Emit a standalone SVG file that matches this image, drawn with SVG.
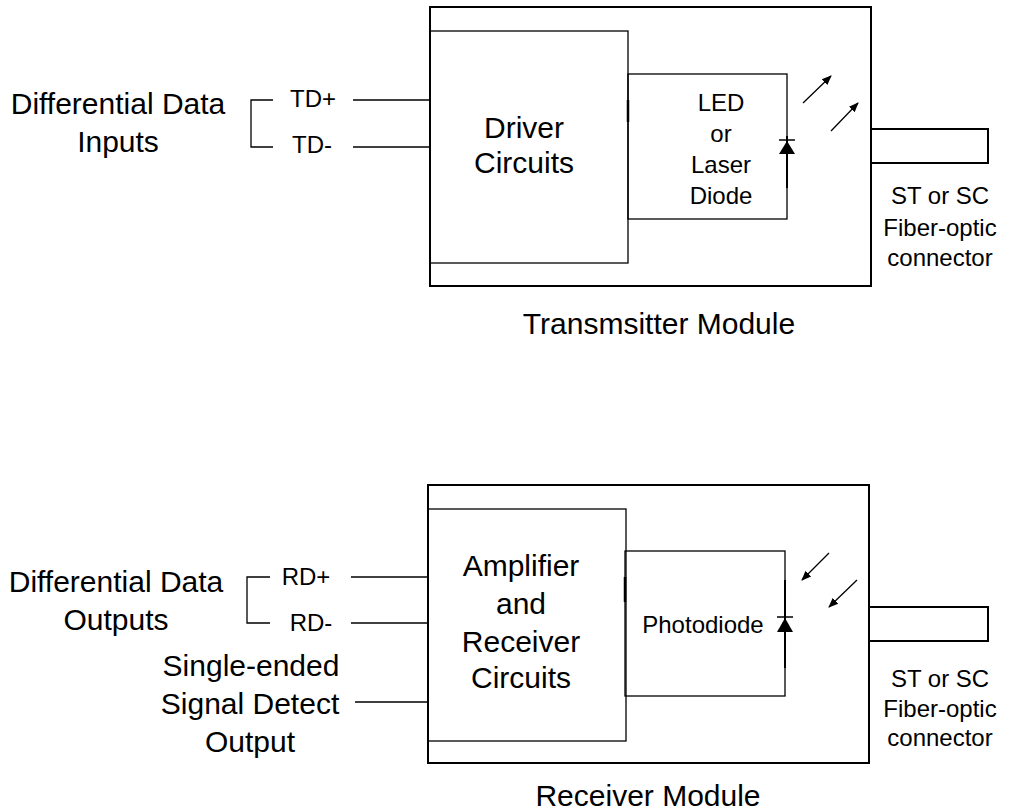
<svg xmlns="http://www.w3.org/2000/svg" width="1010" height="811" viewBox="0 0 1010 811">
<style>
.t{font-family:"Liberation Sans",Arial,sans-serif;fill:#000}
.l{font-size:30px}
.s{font-size:24px}
.o{fill:none;stroke:#000;stroke-width:2}
.i{fill:none;stroke:#000;stroke-width:1.3}
.w{fill:none;stroke:#000;stroke-width:1.3}
</style>
<defs>
<marker id="ah" viewBox="0 0 10 10" refX="9" refY="5" markerWidth="10" markerHeight="10" markerUnits="userSpaceOnUse" orient="auto">
<path d="M0,1 L10,5 L0,9 Z" fill="#000"/>
</marker>
</defs>
<rect width="1010" height="811" fill="#fff"/>

<g id="transmitter-module">
<rect class="o" x="430" y="7" width="441" height="279"/>
<text class="t l" x="659" y="334" text-anchor="middle">Transmsitter Module</text>
</g>
<g id="driver-circuits">
<rect class="i" x="430" y="31" width="198" height="232"/>
<text class="t l" x="524" y="138" text-anchor="middle">Driver</text>
<text class="t l" x="524" y="173" text-anchor="middle">Circuits</text>
</g>
<g id="led-laser-diode">
<rect class="i" x="628" y="74" width="159" height="145"/>
<line x1="628" y1="100" x2="628" y2="122" stroke="#000" stroke-width="2.5"/>
<text class="t s" x="721" y="111" text-anchor="middle">LED</text>
<text class="t s" x="721" y="142" text-anchor="middle">or</text>
<text class="t s" x="721" y="173" text-anchor="middle">Laser</text>
<text class="t s" x="721" y="204" text-anchor="middle">Diode</text>
<line x1="787" y1="136" x2="787" y2="188" stroke="#000" stroke-width="2"/>
<line x1="779" y1="140" x2="795" y2="140" stroke="#000" stroke-width="1.5"/>
<polygon points="787,141 779,154 795,154" fill="#000"/>
</g>
<g id="tx-fiber-connector">
<rect class="o" x="871" y="129" width="117" height="34"/>
<text class="t s" x="940" y="204" text-anchor="middle">ST or SC</text>
<text class="t s" x="940" y="236" text-anchor="middle">Fiber-optic</text>
<text class="t s" x="940" y="266" text-anchor="middle">connector</text>
</g>
<g id="tx-inputs">
<text class="t l" x="118" y="114" text-anchor="middle">Differential Data</text>
<text class="t l" x="118" y="152" text-anchor="middle">Inputs</text>
<text class="t s" x="313" y="107" text-anchor="middle">TD+</text>
<text class="t s" x="312" y="153" text-anchor="middle">TD-</text>
</g>

<g id="receiver-module">
<rect class="o" x="428" y="485" width="441" height="278"/>
<text class="t l" x="648" y="806" text-anchor="middle">Receiver Module</text>
</g>
<g id="amplifier-receiver-circuits">
<rect class="i" x="428" y="509" width="198" height="232"/>
<text class="t l" x="521" y="576" text-anchor="middle">Amplifier</text>
<text class="t l" x="521" y="614" text-anchor="middle">and</text>
<text class="t l" x="521" y="652" text-anchor="middle">Receiver</text>
<text class="t l" x="521" y="688" text-anchor="middle">Circuits</text>
</g>
<g id="photodiode">
<rect class="i" x="625" y="551" width="160" height="145"/>
<line x1="625" y1="577" x2="625" y2="602" stroke="#000" stroke-width="2.5"/>
<text class="t s" x="703" y="633" text-anchor="middle">Photodiode</text>
<line x1="785" y1="580" x2="785" y2="668" stroke="#000" stroke-width="2"/>
<line x1="777" y1="617" x2="793" y2="617" stroke="#000" stroke-width="1.5"/>
<polygon points="785,618 777,632 793,632" fill="#000"/>
</g>
<g id="rx-fiber-connector">
<rect class="o" x="869" y="607" width="119" height="34"/>
<text class="t s" x="940" y="687" text-anchor="middle">ST or SC</text>
<text class="t s" x="940" y="717" text-anchor="middle">Fiber-optic</text>
<text class="t s" x="940" y="746" text-anchor="middle">connector</text>
</g>
<g id="rx-outputs">
<text class="t l" x="116" y="592" text-anchor="middle">Differential Data</text>
<text class="t l" x="116" y="630" text-anchor="middle">Outputs</text>
<text class="t s" x="306" y="585" text-anchor="middle">RD+</text>
<text class="t s" x="311" y="631" text-anchor="middle">RD-</text>
<text class="t l" x="251" y="676" text-anchor="middle">Single-ended</text>
<text class="t l" x="250" y="714" text-anchor="middle">Signal Detect</text>
<text class="t l" x="250" y="752" text-anchor="middle">Output</text>
</g>

<g id="connectors">
<polyline class="w" points="273,100 251,100 251,147 273,147"/>
<line class="w" x1="353" y1="100" x2="430" y2="100"/>
<line class="w" x1="353" y1="147" x2="430" y2="147"/>
<polyline class="w" points="270,577 247,577 247,623 270,623"/>
<line class="w" x1="351" y1="577" x2="428" y2="577"/>
<line class="w" x1="351" y1="623" x2="428" y2="623"/>
<line class="w" x1="355" y1="702" x2="428" y2="702"/>
<line class="w" x1="803" y1="103" x2="831" y2="76" marker-end="url(#ah)"/>
<line class="w" x1="831" y1="131" x2="858" y2="103" marker-end="url(#ah)"/>
<line class="w" x1="829" y1="553" x2="802" y2="580" marker-end="url(#ah)"/>
<line class="w" x1="857" y1="580" x2="829" y2="607" marker-end="url(#ah)"/>
</g>
</svg>
